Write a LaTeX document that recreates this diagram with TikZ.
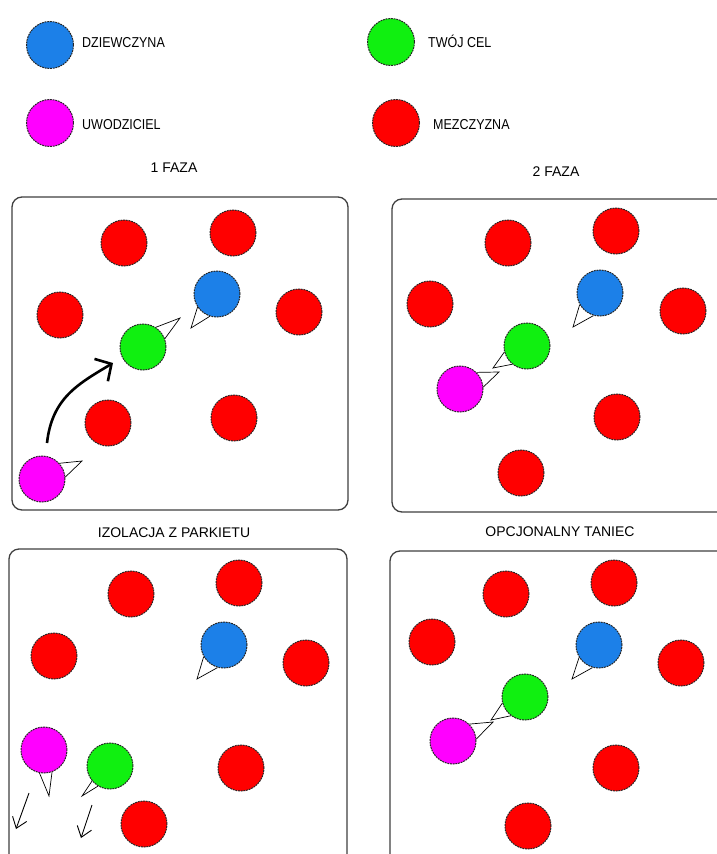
\documentclass[tikz,border=0pt]{standalone}
\usepackage{fontspec}
\setmainfont{Liberation Sans}
\usetikzlibrary{arrows.meta}
\definecolor{pred}{RGB}{255,0,0}
\definecolor{pblue}{RGB}{28,128,232}
\definecolor{pgreen}{RGB}{16,240,16}
\definecolor{pmag}{RGB}{255,0,255}
\tikzset{
  person/.style={circle, minimum size=46, inner sep=0pt, draw=black!85, line width=1pt, dash pattern=on 1.8pt off 0.9pt},
  man/.style={person, fill=pred},
  girl/.style={person, fill=pblue},
  target/.style={person, fill=pgreen},
  seducer/.style={person, fill=pmag},
  legtext/.style={anchor=west, inner sep=0pt, font=\fontsize{12.5}{14}\selectfont},
  title/.style={inner sep=0pt, font=\fontsize{14}{16}\selectfont},
  frame/.style={draw=black!75, line width=1.3pt, rounded corners=10pt},
  cone/.style={draw=black, line width=0.7pt},
  bigarrow/.style={line width=2.6pt, -{Straight Barb[length=12pt,width=26pt]}},
  thinarrow/.style={line width=0.9pt, -{Straight Barb[length=10pt,width=15pt]}}
}
\begin{document}
\begin{tikzpicture}[x=1pt,y=-1pt]
\clip (0,0) rectangle (717,854);
\fill[white] (0,0) rectangle (717,854);

% legend
\node[girl, minimum size=47] (lb) at (50,45) {};
\node[legtext] (lbt) at (82,43) {\scalebox{1}[1.15]{DZIEWCZYNA}};
\node[target, minimum size=47] (lg) at (391,42) {};
\node[legtext] (lgt) at (428,41) {\scalebox{1}[1.15]{TWÓJ CEL}};
\node[seducer, minimum size=47] (lm) at (50,123) {};
\node[legtext] (lmt) at (82,125) {\scalebox{1}[1.15]{UWODZICIEL}};
\node[man, minimum size=47] (lr) at (396,123) {};
\node[legtext] (lrt) at (433,125) {\scalebox{1}[1.15]{MEZCZYZNA}};

% titles
\node[title] (t1) at (174,168) {1 FAZA};
\node[title] (t2) at (556,172) {2 FAZA};
\node[title] (t3) at (174,533) {IZOLACJA Z PARKIETU};
\node[title] (t4) at (560,532) {OPCJONALNY TANIEC};

% frames
\draw[frame] (12,197) rectangle (348,510);
\draw[frame] (392,199) rectangle (740,512);
\draw[frame] (9,549) rectangle (347,880);
\draw[frame] (390,551) rectangle (740,880);

% ---------- panel 1 ----------
\node[man] (a1) at (124,243) {};
\node[man] (a2) at (233,233) {};
\node[man] (a3) at (60,315) {};
\node[man] (a4) at (299,312) {};
\node[man] (a5) at (108,423) {};
\node[man] (a6) at (234,418) {};
\node[girl] (ab) at (217,294) {};
\node[target] (ag) at (143,347) {};
\node[seducer] (am) at (42,479) {};
\coordinate (agc) at (180,318);
\coordinate (abc) at (191,328);
\coordinate (amc) at (82,461);
\draw[cone] (ag.57) -- (agc) -- (ag.21);
\draw[cone] (ab.214) -- (abc) -- (ab.252);
\draw[cone] (am.42) -- (amc) -- (am.5);
\coordinate (as) at (47,443);
\coordinate (ae) at (113,363);
\draw[bigarrow] (as) .. controls (52,398) and (78,384) .. (ae);

% ---------- panel 2 ----------
\node[man] (b1) at (508,243) {};
\node[man] (b2) at (616,231) {};
\node[man] (b3) at (430,304) {};
\node[man] (b4) at (683,311) {};
\node[man] (b5) at (617,417) {};
\node[man] (b6) at (521,473) {};
\node[girl] (bb) at (600,293) {};
\node[target] (bg) at (527,346) {};
\node[seducer] (bm) at (460,389) {};
\coordinate (bbc) at (573,327);
\coordinate (bgc) at (493,368);
\coordinate (bmc) at (499,372);
\draw[cone] (bb.210) -- (bbc) -- (bb.254);
\draw[cone] (bg.195) -- (bgc) -- (bg.231);
\draw[cone] (bm.45) -- (bmc) -- (bm.5);

% ---------- panel 3 ----------
\node[man] (c1) at (131,594) {};
\node[man] (c2) at (239,583) {};
\node[man] (c3) at (54,656) {};
\node[man] (c4) at (306,663) {};
\node[man] (c5) at (241,768) {};
\node[man] (c6) at (144,824) {};
\node[girl] (cb) at (224,645) {};
\node[seducer] (cm) at (44,750) {};
\node[target] (cg) at (110,766) {};
\coordinate (cbc) at (197,679);
\coordinate (cmc) at (49,796);
\coordinate (cgc) at (82,796);
\draw[cone] (cb.210) -- (cbc) -- (cb.254);
\draw[cone] (cm.259) -- (cmc) -- (cm.290);
\draw[cone] (cg.220) -- (cgc) -- (cg.239);
\coordinate (cs1) at (29,793);
\coordinate (ce1) at (16,829);
\coordinate (cs2) at (92,805);
\coordinate (ce2) at (81,838);
\draw[thinarrow] (cs1) -- (ce1);
\draw[thinarrow] (cs2) -- (ce2);

% ---------- panel 4 ----------
\node[man] (d1) at (506,594) {};
\node[man] (d2) at (614,583) {};
\node[man] (d3) at (432,642) {};
\node[man] (d4) at (681,663) {};
\node[man] (d5) at (616,768) {};
\node[man] (d6) at (528,826) {};
\node[girl] (db) at (599,645) {};
\node[target] (dg) at (525,697) {};
\node[seducer] (dm) at (453,741) {};
\coordinate (dbc) at (572,679);
\coordinate (dgc) at (491,720);
\coordinate (dmc) at (493,722);
\draw[cone] (db.212) -- (dbc) -- (db.254);
\draw[cone] (dg.195) -- (dgc) -- (dg.233);
\draw[cone] (dm.46) -- (dmc) -- (dm.5);
\end{tikzpicture}
\end{document}
